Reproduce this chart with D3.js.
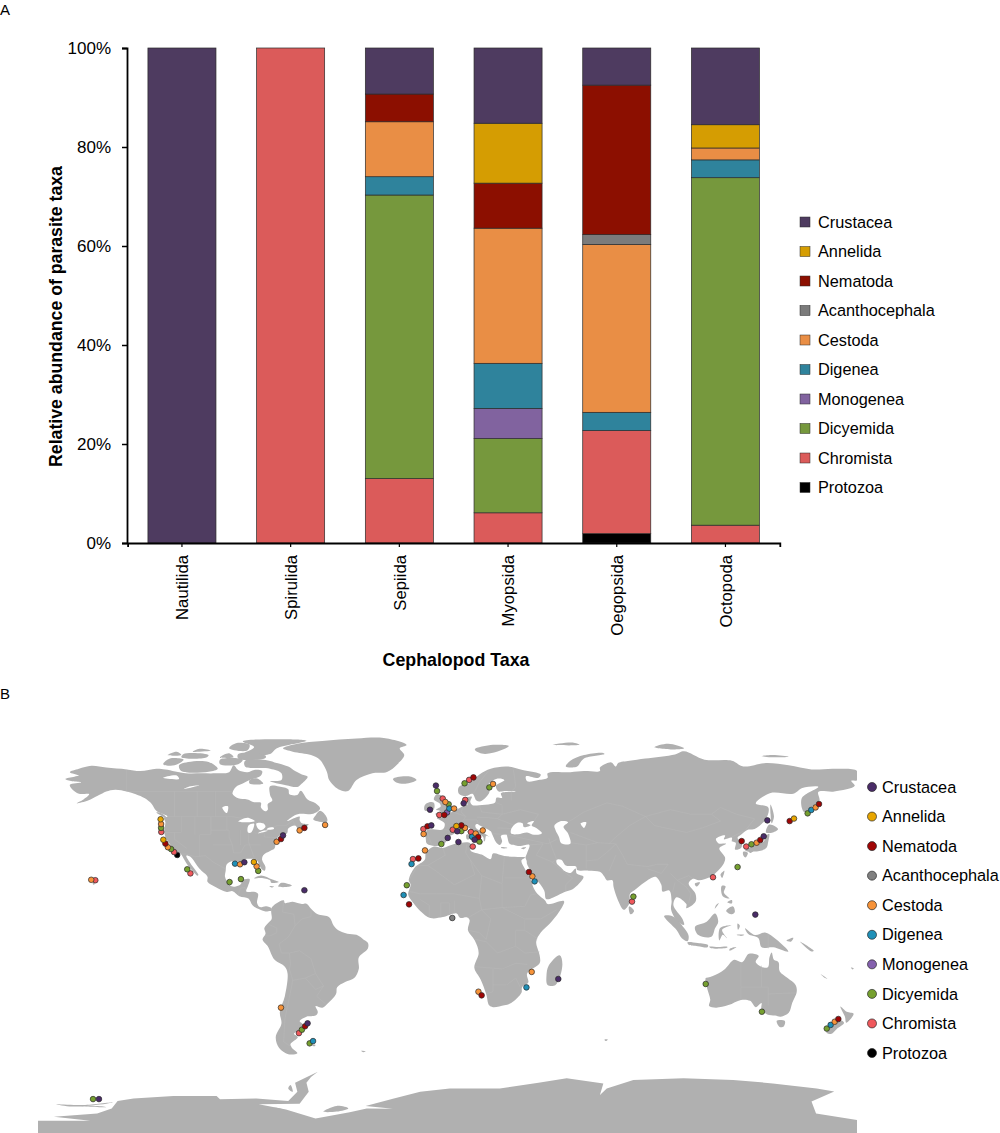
<!DOCTYPE html>
<html>
<head>
<meta charset="utf-8">
<script src="https://cdn.jsdelivr.net/npm/d3@7"></script>
<style>
  body { margin: 0; background: #fff; }
  text { font-family: "Liberation Sans", Arial, sans-serif; fill: #000; }
</style>
</head>
<body>
<div id="canvas"></div>
<script>
// panel A data, one array per parasite taxon, same order as categories
const categories = ["Nautilida", "Spirulida", "Sepiida", "Myopsida", "Oegopsida", "Octopoda"];
const yTicks = [0, 20, 40, 60, 80, 100];
const taxa = ["Protozoa", "Chromista", "Dicyemida", "Monogenea", "Digenea", "Cestoda", "Acanthocephala", "Nematoda", "Annelida", "Crustacea"];
const protozoa = [0, 0, 0, 0, 1.9, 0];
const chromista = [0, 100, 13, 6.1, 20.8, 3.6];
const dicyemida = [0, 0, 57.3, 15, 0, 70.2];
const monogenea = [0, 0, 0, 6.1, 0, 0];
const digenea = [0, 0, 3.7, 9.1, 3.7, 3.6];
const cestoda = [0, 0, 11.1, 27.3, 33.9, 2.4];
const acanthocephala = [0, 0, 0, 0, 2, 0];
const nematoda = [0, 0, 5.6, 9.1, 30.2, 0];
const annelida = [0, 0, 0, 12.1, 0, 4.7];
const crustacea = [100, 0, 9.3, 15.2, 7.5, 15.5];

const barColors = ["#000000", "#db5b5a", "#76983d", "#81639f", "#2f839c", "#e98e45", "#7b7b7b", "#8c0f00", "#d59d02", "#4e3b60"];
const dotColors = ["#000000", "#f0585c", "#76a02f", "#8460ae", "#1f90b8", "#f79339", "#808080", "#a00505", "#e8a600", "#4a2c68"];

// panel B sampling sites as [lon, lat]
const protozoaSites = [[-118.8,32.1]];
const chromistaSites = [[-125.8,42.2],[-120.2,33.4],[-113,24],[-154.8,21],[-65.3,-46.2],[9.5,65.1],[-2.1,56.9],[-3.6,49.7],[7.8,56.3],[-10.6,43.5],[2.3,43.2],[10.3,42.2],[11.1,35.8],[-15.2,30.3],[81.1,11.6],[116.7,22.3],[131.3,35.8]];
const dicyemidaSites = [[-125.9,44],[-121.5,34.7],[-114.4,25.8],[-83.2,25.1],[-90.8,21.5],[-95.8,20.2],[-64,-44.7],[-60.6,-50.7],[-155.8,-75.2],[-4.6,60.2],[7.5,63.6],[18.4,61.8],[0.5,54.4],[6.1,42.6],[-2.7,36.9],[14,38],[-17.9,18.8],[81.7,13.8],[127.5,26.8],[133.6,36.8],[158.3,50.4],[113.5,-24.6],[138.2,-36.8],[166.7,-44.2]];
const monogeneaSites = [[-0.2,50.8]];
const digeneaSites = [[-93.4,28.3],[-59.1,-49.7],[0.8,52.5],[10.8,40.1],[-15.8,28.1],[-19.3,14.5],[38.3,20.5],[159.9,51.9],[34.7,-26.1],[168.4,-42.6]];
const cestodaSites = [[-125.9,45.7],[-122.9,35.5],[-156.6,21.2],[-91.2,28],[-83.9,27.1],[-75.1,37.9],[-65,42.9],[-53.8,45.3],[-73.2,-35],[20,63.3],[-0.95,55.4],[2.9,52.5],[-10.5,41.3],[7.7,44],[12.4,41.5],[15.5,42.9],[-9.9,34.1],[37.3,22.7],[135.9,37.5],[161.8,53],[37,-19.3],[13.6,-28],[170.2,-41.2]];
const acanthocephalaSites = [[2.1,4.4]];
const nematodaSites = [[-124,37.1],[-73.2,39.1],[-62.9,44],[-62.6,-43.2],[11.4,66.2],[-1.4,49.7],[-8.8,44.7],[6.1,45.1],[13.5,40],[-12.8,30.6],[-16.9,10.4],[35.8,24.6],[129.3,38.2],[137.5,38.7],[150.4,47],[163.3,54.5],[15,-29.6],[171.8,-40]];
const annelidaSites = [[-126.1,47.8],[-124.9,38.8],[-85.1,29],[3.9,44.8],[152.3,48.1]];
const crustaceaSites = [[-89.3,28.9],[-62.9,16.6],[-72.3,40.7],[-61.5,-41.9],[-153.2,-75.2],[-5.1,62.6],[-7.7,52],[7.1,54.8],[-7.1,45.1],[4.3,42.5],[0.1,39.6],[4.8,37.8],[11.9,38.8],[135.3,5.9],[139,40.3],[140.6,47.3],[48.7,-22.4]];

// land outlines as lon/lat rings, traced by hand
const northAmerica = [[-168,65.5],[-164,66.5],[-162,67],[-166,68.5],[-162,70],[-156.5,71.3],[-150,70.5],[-141,69.7],[-135,69],[-128,70],[-124,69.7],[-115,68],[-108,68],[-102,68],[-96,68.5],[-94,71.5],[-92,69.5],[-88,68.5],[-85,69.5],[-81.5,69],[-82,67],[-87,65],[-90,63.5],[-93,62],[-94.5,59],[-92,57],[-88,56.5],[-85,55.3],[-82,55],[-82,53],[-80,51.3],[-79,52],[-79,54.5],[-77,56],[-78,58.5],[-78,62.3],[-74,62.2],[-70,61],[-69.5,58.8],[-66,58.5],[-64.5,60.3],[-61.5,56.5],[-58,54.8],[-56,52.5],[-59,50.2],[-65,50.2],[-68,49],[-70.5,47],[-65,49],[-65,47.5],[-64,46],[-61,45.5],[-65.5,43.5],[-67,45],[-70,43.7],[-70.5,41.7],[-74,40.6],[-75.5,38],[-76,35],[-78,33.8],[-81,32],[-81.5,30],[-80,26.8],[-80.4,25.2],[-81.8,26],[-82.8,28],[-84,30],[-86,30.4],[-89,30.2],[-90,29.1],[-94,29.6],[-97,28],[-97.5,25],[-97.8,22.5],[-96,19.2],[-94.5,18.2],[-92,18.6],[-90.7,19.5],[-90.3,21],[-87,21.5],[-87.7,18.5],[-88.5,16],[-85,15.9],[-83.3,15],[-83.7,11],[-82.5,9.2],[-79.7,9.6],[-77.4,8.7],[-77.5,7.5],[-78,7.5],[-80,7.3],[-83,8.3],[-85.7,10],[-87.5,13],[-91.5,14],[-94.5,16.2],[-97,15.8],[-102,18],[-105.5,20.3],[-105.5,22.5],[-109,26],[-113,31.3],[-114.8,31.8],[-113,28.5],[-109.5,23.3],[-110,23],[-112,25],[-114.5,28],[-116,30.5],[-117.2,32.5],[-120.5,34.5],[-122,36.8],[-124,40],[-124.5,43],[-124,46.5],[-124.7,48.4],[-123,49],[-128,51.5],[-130,54.5],[-133,57],[-137,58.8],[-141,60],[-146,60.8],[-150,60],[-152,59],[-154,58],[-158,56],[-163,54.8],[-160,56.5],[-157.5,58.8],[-162,59],[-165,61],[-166,63],[-161,64],[-165,64.5]];
const greenland = [[-72.3,79],[-66,81],[-55,82.2],[-40,83.3],[-28,83.5],[-18,80.5],[-21,79],[-19,76],[-22,72],[-26.6,68.6],[-33,68],[-40,65],[-43.7,60.2],[-48,61],[-52,65],[-53,68.6],[-56,73.8],[-60,76],[-68,77.5]];
const southAmerica = [[-77.4,8.7],[-75.5,10.7],[-72,12.2],[-71.5,11],[-68,11.5],[-64,10.5],[-62,10.7],[-60,8.5],[-57,6],[-52,4.7],[-50,1],[-48,-1],[-44,-2.5],[-40,-3],[-37,-5],[-35,-6.5],[-35,-9],[-39,-13],[-39,-18],[-41,-22],[-45,-23.7],[-48.5,-26],[-49,-29],[-53,-33.5],[-55,-35],[-58,-34.3],[-57,-37],[-58,-38.5],[-62,-39],[-65,-41],[-63.5,-42.5],[-65.5,-45],[-67.5,-46.5],[-65.8,-48],[-69,-51],[-68.5,-52.5],[-66,-55],[-70,-55.5],[-74,-52.8],[-75.5,-48],[-73,-42],[-73.7,-37],[-71.5,-30],[-70.3,-20],[-71.5,-17],[-76,-14],[-79,-8],[-81.3,-5],[-80,-2.5],[-80.5,0],[-78.5,2.5],[-77.3,4],[-77.5,7]];
const africa = [[-6,35.8],[-2,35.2],[3,36.9],[10,37.3],[10.2,34],[15,32.3],[19,30.3],[20,32.7],[25,31.6],[32,31.2],[34.3,31],[32.5,29.7],[34,26],[37,20.5],[37.5,18.5],[39.5,15],[43,12],[44,10.5],[51.2,11.8],[49,7],[45,2],[41,-2],[39,-6],[40.5,-12],[40.5,-15.5],[35,-20],[35.5,-24],[32.8,-26],[32.5,-28.5],[28,-33],[25,-34],[20,-34.8],[18.3,-34],[17,-29],[14.5,-22.5],[11.8,-17.5],[13.7,-11],[12,-5.5],[9,-1],[9.7,3.5],[8.5,4.7],[5.5,4.5],[4,6.4],[-2,4.8],[-7.5,4.4],[-12,7.5],[-15,11],[-17.3,14.7],[-16.2,19],[-17,21],[-14.5,26.5],[-10,30],[-9.5,33]];
const eurasia = [[-5.6,36],[-9,37],[-9.5,38.7],[-9,43],[-2,43.4],[-1.3,46],[-4.7,48.4],[-1.5,48.7],[-1.5,49.7],[2,51],[4,52],[7,53.6],[8.7,54],[8.2,57],[10.7,57.7],[10,55.5],[11,54],[14,54],[19,54.5],[21,55.3],[21.5,57.3],[24,57.2],[23.5,59.2],[30,60],[25,60.2],[22.5,60],[21.3,62.5],[25,65],[22,65.7],[17.5,62.5],[18.5,60],[16.5,57],[14.3,55.6],[12.7,56],[11,59],[8,58],[5,59],[5,62],[10,64],[14,67.5],[19,70],[26,71],[33,69.5],[41,67.5],[40,66],[34.5,66.7],[35,64.5],[40,65],[44,66],[44,68],[54,68.5],[60,69],[67,69],[67,70.5],[72,72.8],[74,71],[75,72.5],[80,73.5],[87,74.5],[100,76.3],[104,77.7],[113,74],[125,73.5],[130,71],[140,72.5],[150,71.5],[160,69.7],[170,70],[180,69],[180,65],[177.5,64.7],[179,62.5],[170,60],[163,59.8],[163.5,56],[160,53],[156.7,51],[155.7,57],[163,62],[156,61.5],[152,59],[142,59.3],[135.5,54.7],[141,53],[140,48],[135,43.5],[132,43.2],[129,41],[127.5,39.7],[129.4,37],[129,35.2],[126.4,34.5],[126.7,37.5],[125,38],[125,39.7],[121.5,39],[122,40.7],[118,39.2],[119,37.3],[122.5,37],[119.5,35],[122,31],[121.5,28.5],[119,25.3],[116,22.8],[110.5,21],[108,21.6],[106,19.5],[109,15],[109,11.5],[105,8.7],[105,10.5],[100.7,13.5],[99.3,10],[103.3,4],[104,1.4],[101,3],[98.3,8],[98.5,12],[97.5,16.5],[94.5,16],[94,19],[91.5,22.5],[89,21.7],[86.5,20],[82,16.5],[80.2,15],[80,11],[77.5,8],[75,12],[73,18],[72.5,21],[70,21],[69,22.5],[67,24.7],[62,25.2],[57,25.5],[56.5,27],[52,27.5],[50,30],[48,30],[48,28.5],[50,26.5],[51.5,25],[54,24.2],[56.3,26.2],[56.8,24],[59.8,22.5],[55,17],[52,16],[45,12.8],[43.3,12.8],[42.5,16.5],[39,21.5],[35,28],[34.8,29.5],[34.3,31],[35,33],[36,36.5],[32,36],[30,36.3],[27.3,37],[26.3,40],[26,41],[23.5,40.5],[24,38],[23,36.5],[21.5,37.5],[19.5,41.5],[19,42.5],[14,45.2],[13,45.7],[12.3,45.3],[12.5,44],[16,41.8],[18.5,40],[17,40.5],[16.5,38.5],[16,38],[15.7,40],[12.5,41.5],[10.5,43],[8.8,44.4],[6,43],[3.2,43],[3.2,41.8],[0,39.8],[-0.5,38],[-2,36.8]];
const australia = [[113.5,-22],[114,-26],[115.5,-31.5],[115,-34.3],[118,-35],[123.5,-33.9],[129,-31.6],[133,-32],[135.5,-34.8],[138,-33],[138,-35.6],[140.5,-38],[144,-38.5],[146.5,-39],[150,-37.3],[151.5,-33],[153.5,-28],[153,-25],[149.5,-22],[146,-19],[145.5,-15],[143.5,-14],[142.5,-10.8],[141.5,-13],[141,-17],[139.5,-17.5],[135.5,-15],[136.8,-12.2],[132.5,-11.3],[129.5,-15],[126,-14],[122,-18],[119,-20],[114.5,-21.8]];
const antarctica = [[-180,-84.7],[-157,-84.7],[-173,-83],[-154,-81.5],[-147.6,-79.3],[-145,-76],[-138,-74.9],[-120.5,-73.8],[-101.5,-73.8],[-100,-75.3],[-84,-74.9],[-70,-76],[-66,-72],[-67,-68],[-57,-63.2],[-60,-65.5],[-62,-68],[-61,-72],[-65,-77.2],[-83,-77.5],[-71,-79.8],[-58,-83.7],[-43,-81],[-35.5,-79.3],[-24,-79.5],[-36,-78.2],[-24,-75],[-12,-72],[1,-70.5],[23,-70.5],[40,-68],[52.4,-66],[68.5,-68.3],[67,-73.4],[70,-70.5],[81.7,-66.8],[103.7,-66],[125.6,-66.8],[143,-68.3],[162.3,-70.5],[170,-71.9],[160,-76.3],[162,-81.5],[180,-84.4],[180,-91],[-180,-91]];
const islands = [
  [[-61.5,66.5],[-64,63.5],[-66,62],[-71,62.8],[-78,64.5],[-73,65],[-73,68],[-78,70],[-89,71],[-89,73.5],[-80,73.8],[-76,72.8],[-70,71],[-67,69],[-64,67.5]],
  [[-117,69],[-105,68.7],[-101,70],[-105,73],[-114,73],[-118,71.5]],
  [[-125,72],[-120,71.5],[-116,74],[-122,74.5]],
  [[-90,76.5],[-78,76.5],[-75,79],[-62,82.3],[-72,83],[-90,82],[-85,79.5]],
  [[-92,74.5],[-80,74.7],[-80,75.8],[-92,76.5]],
  [[-96,79],[-88,78],[-87,80.5],[-93,81.2]],
  [[-117,75],[-106,74.9],[-105,76],[-116,76.5]],
  [[-100,72],[-92,72],[-90,74],[-100,74]],
  [[-100,75],[-94,75],[-96,76.8]],
  [[-123,76],[-117,76],[-119,77.5]],
  [[-112,77.5],[-104,78],[-109,78.8]],
  [[-87,63.5],[-81,63.5],[-84,65.8],[-87,65]],
  [[-59,47.7],[-53,46.7],[-53,48.5],[-56,51.5],[-58,49.5]],
  [[-85,21.8],[-82,23.1],[-77,21.3],[-74.2,20.2],[-77.5,19.9],[-78,21],[-82,22]],
  [[-74.4,18.5],[-73,19.9],[-68.4,18.7],[-71,18],[-74.4,18.2]],
  [[-78.3,18.4],[-76.3,18.2],[-77,17.8]],
  [[-128,50.8],[-124,48.5],[-123.5,48.5],[-125.5,50.3]],
  [[-24,65.5],[-22,66.4],[-16,66.5],[-13.6,65],[-18.5,63.4],[-22.5,64]],
  [[-5.5,50],[1.3,51.2],[1.7,52.7],[0,53.5],[-1.5,55],[-2,57.6],[-3.5,58.6],[-5,58.6],[-6,56.5],[-3.5,54.8],[-3,53.4],[-5,52],[-3,51.4]],
  [[-10,51.7],[-6,52.2],[-6,55],[-8,55.3],[-10,54]],
  [[12,78.5],[20,80.5],[27,80],[20,77],[15,76.7]],
  [[52,71],[55,70.6],[57,71],[60,74.5],[69,76.5],[68,77],[60,76],[54,73.5]],
  [[46,80.5],[58,80.5],[55,81.5]],
  [[91,79.5],[100,78.5],[104,79],[97,81]],
  [[138,75.5],[145,75],[150,75.3],[143,76]],
  [[12.5,38],[15.5,38.2],[15,36.7]],
  [[8.3,41],[9.7,41],[9.5,39],[8.5,39]],
  [[8.6,42.5],[9.5,43],[9.3,41.5]],
  [[23.5,35.5],[26.3,35.2],[24,35]],
  [[32.3,35],[34.5,35.6],[33.5,34.6]],
  [[49.3,-12],[50.5,-16],[47.5,-25],[44,-25],[43.5,-21],[44.5,-16.5]],
  [[79.8,9.5],[82,7.5],[80.5,6],[79.8,7.5]],
  [[142,54.3],[143.5,49],[142.5,46],[142,50]],
  [[130.9,34],[135,33.6],[140,35],[141,38],[141.4,41.4],[140,40.5],[139,38],[136.5,37],[133,35.5]],
  [[140,42],[141.5,45.5],[145.3,43.5],[143,42]],
  [[130,33.5],[132,33],[131,31],[130,32]],
  [[132.5,34],[134.5,34],[133,33]],
  [[121.7,25.2],[120.7,22],[120,23.5]],
  [[108.7,19.5],[111,20],[109.5,18.2]],
  [[120.5,18.5],[122.2,18.4],[121.5,15.5],[124,13],[121,14]],
  [[122.5,7.5],[125.5,9.5],[126.3,7],[125,6]],
  [[123,11.3],[125,12.3],[125,10.8]],
  [[118,10],[119.3,11],[117.5,8.5]],
  [[108.8,0.6],[113.9,2.8],[117.6,6.4],[119,2.8],[117.6,-0.1],[116,-3.8],[110.3,-3.1]],
  [[95.2,5.3],[99.3,5],[104,0],[106,-3.5],[105.5,-5.8],[103,-4.5],[100.7,-0.9]],
  [[105.5,-6.3],[110,-6.6],[114.5,-7.5],[114.3,-8.5],[110,-8],[106,-7.4]],
  [[119.5,-5.5],[119.8,0],[124.8,1.2],[120.7,-0.8],[122.8,-4.5],[121,-3]],
  [[115,-8.2],[119,-8.3],[123,-8.2],[123,-8.6],[116,-8.9]],
  [[124,-10],[127,-8.4],[124,-9.2]],
  [[127.5,2],[128.5,1],[127.7,-0.8]],
  [[127,-3],[130.5,-3],[129,-3.5]],
  [[130.8,-0.1],[135.2,-3.1],[139.6,-2],[144.7,-5.2],[149.8,-10.4],[143.2,-8.5],[138.1,-8.5],[136.6,-4.4],[132.2,-2.6]],
  [[149,-5.5],[152,-4.3],[151,-6]],
  [[155,-6],[161,-10],[160,-10.3]],
  [[164,-20.2],[167,-22.3],[166,-22]],
  [[177.3,-17.4],[178.6,-17.8],[178,-18.2]],
  [[144.7,-40.8],[148.3,-40.9],[147.8,-43.3],[146,-43.5]],
  [[166.5,-45.8],[172.5,-40.6],[174.3,-41.7],[171,-44.5],[168.5,-46.6]],
  [[172.7,-34.5],[175.5,-36.8],[178.5,-37.7],[175.3,-41.6],[174.7,-39]],
  [[-54.6,-80.7],[-48.7,-78.2],[-43.6,-79.3],[-48.7,-80.7]],
  [[-80,-79.5],[-75,-79],[-72,-80]],
  [[-172,-77.5],[-160,-77.8],[-147,-76.6],[-150,-77.2],[-165,-78.5]],
  [[-70,-70.5],[-69,-69],[-68,-72]],
  [[-162,-78.2],[-152,-78.4],[-150,-78.8]],
  [[-59.8,-51.3],[-58,-51.4],[-58.5,-52]],
  [[-38,-54],[-36,-54.2],[-37,-54.6]],
  [[-156,19.7],[-155,19.7],[-155.5,19]],
  [[69,-49],[70.5,-49],[69.5,-49.7]]
];
const waters = [
  [[-92,46.8],[-88,48.5],[-84.7,47],[-87,46.5]],
  [[-87.7,42],[-86.3,42],[-85,45.8],[-87.5,45]],
  [[-84,46],[-81,46],[-80,44.5],[-82,43],[-83.5,44]],
  [[-83.3,41.7],[-79,42.8],[-81,42.8]],
  [[-79.5,43.3],[-76.3,43.5],[-76.5,44.2],[-79,43.9]],
  [[-125,66],[-119,67],[-118,65.5]],
  [[-116,61],[-109,62.7],[-114,62]],
  [[-99,53],[-96.5,53.5],[-97,50.5]],
  [[28,41.5],[31,41.2],[35,42],[38,41],[41.5,41.7],[39,44],[37,45],[38,47],[35,46],[36.5,45.2],[33.5,44.4],[33,46],[30.5,46.2],[28,43.5]],
  [[47,45],[50,47],[53,46.5],[51,44.5],[53,41.5],[54,37],[50,37.3],[49,40],[47.5,43]],
  [[58.5,46],[61,46.5],[60,44]]
];
// country borders, only the ones that show on the reference
const borders = [
  [[-141,69.7],[-141,60]],
  [[-123,49],[-95,49],[-89,48],[-84,46.5],[-82.5,42],[-79,43],[-75,45],[-71,45],[-68,47.3],[-67,45]],
  [[-117.2,32.5],[-114.8,32.5],[-111,31.3],[-106.5,31.8],[-103,29],[-97.5,25.9]],
  [[-104,49],[-104,41],[-109,41],[-109,31.3]],
  [[-117,49],[-117,42],[-124.3,42]],
  [[-120,42],[-120,39],[-114.6,35]],
  [[-111,49],[-111,41]],
  [[-104,43],[-96,43],[-96,40],[-94.6,36.5],[-103,36.5]],
  [[-97,49],[-97,43]],
  [[-94.6,36.5],[-94,33],[-91,33],[-89,36.5],[-82,36.5]],
  [[-91,43],[-91,36.5]],
  [[-87.5,42],[-87.5,38],[-85,31]],
  [[-84.8,41.7],[-80.5,41.7],[-80.5,40],[-75,39.7]],
  [[-120,60],[-120,49]],
  [[-110,60],[-110,49]],
  [[-141,60],[-102,60],[-94.5,60]],
  [[-102,60],[-102,49]],
  [[-92,14.5],[-91,17.5],[-89,17.8],[-88.5,16]],
  [[-72,12],[-72.5,7],[-67.5,6],[-67,1],[-70,-4],[-74,-7],[-73,-11],[-69.5,-11],[-65,-10],[-60,-13.5],[-58,-20],[-54.5,-25.5],[-57.5,-30],[-53.5,-33.5]],
  [[-60,8.5],[-60,5],[-64,4],[-67,1]],
  [[-78.5,1.5],[-75,0],[-75,-2],[-78,-3.5],[-80.3,-3.5]],
  [[-69.5,-11],[-69,-16],[-69.5,-18],[-68,-23],[-70,-33],[-71.5,-40],[-72,-50],[-69,-52]],
  [[-68,-23],[-62.5,-22],[-58,-20]],
  [[-62.5,-22],[-58,-27],[-54.5,-25.5]],
  [[-2,35.2],[-1,32],[-8.7,27.5],[-13,27.5],[-17,21]],
  [[-8.7,27.5],[-5,25],[3,19],[12,23.5],[10,30],[8,33],[8.5,37]],
  [[10,30],[15,23],[24,19.5],[25,31.6]],
  [[25,22],[37,22]],
  [[24,19.5],[24,9],[34,9.5],[36.5,14.5],[39,15]],
  [[-16.5,16],[-12,15],[-5,15],[3,15],[14,13],[15,23]],
  [[14,13],[15,8],[9,4.5]],
  [[3,12],[3,6.4]],
  [[-8,4.5],[-8,10],[-12,12.5]],
  [[-3,5],[-3,11],[1,11],[1,6]],
  [[15,8],[24,9],[34,4],[41,4],[48,8]],
  [[34,4],[34,-1],[39.5,-4.7]],
  [[34,-1],[30,-1],[30,-8],[34,-11],[40.5,-10.5]],
  [[12,-5],[17,-6],[22,-11],[30,-8]],
  [[12,-17],[24,-18],[30,-15.5],[35,-16]],
  [[20,-18],[20,-28],[17,-29]],
  [[20,-25],[26,-25],[30,-22],[32,-26]],
  [[9,-1],[14,-2],[17,-5],[19,4],[15,8]],
  [[-9,42],[-7,37]],
  [[-2,43.4],[3,42.5]],
  [[2.5,51],[8,49],[7,47.5],[6,46],[7.5,44]],
  [[7,53.6],[6,51],[8,49]],
  [[7,47.5],[13,47.5],[13.5,46]],
  [[14,54],[15,51],[24,50],[22,48],[18,48.5],[13,48.7]],
  [[24,50],[24,54],[21,55.3]],
  [[28,56],[28,60]],
  [[24,50],[32,52],[40,50],[38,47]],
  [[22,48],[29,45.3]],
  [[22,44],[28,43.7]],
  [[19.5,41.5],[26,41]],
  [[29,69.5],[30,62],[28,60]],
  [[18,69],[14,64],[12,60],[11,59]],
  [[26,41],[44,37],[48,39]],
  [[36,36.5],[42,37],[39,32],[46,29],[48,30]],
  [[46,29],[52,24],[55,22],[52,19],[52,16]],
  [[44.5,39.5],[46,35],[48,30]],
  [[61,36.5],[61,26]],
  [[61,36.5],[54,37.5]],
  [[61,36.5],[66,37.5],[74,37],[71,34],[66,30],[61,29.5]],
  [[74,37],[77,32],[79,28],[88,27],[92,28],[97,28],[94,24],[91,25],[88,26]],
  [[71,25],[74,32]],
  [[53,46.5],[60,51],[70,55],[77,53.5],[87,49]],
  [[87,49],[98,52],[107,50],[116,50],[120,53],[127,50],[135,48],[131,43]],
  [[87,49],[80,45],[74,40],[71,37]],
  [[87,49],[91,45],[105,42],[112,44],[120,47],[116,50]],
  [[54,42],[66,37.5]],
  [[98,24],[101,21],[106,23],[108,21.6]],
  [[101,21],[105,18],[107,15],[106,11]],
  [[99,16],[100,20]],
  [[125,40],[130,42.5]],
  [[141,-2.6],[141,-9]],
  [[129,-15],[129,-31.6]],
  [[138,-16.5],[138,-26],[141,-26],[141,-34]],
  [[129,-26],[138,-26]],
  [[141,-29],[153.5,-28.5]]
];

const svg = d3.select("#canvas").append("svg")
    .attr("width", 1000)
    .attr("height", 1133);

const seriesByTaxon = [protozoa, chromista, dicyemida, monogenea, digenea, cestoda, acanthocephala, nematoda, annelida, crustacea];
const sitesByTaxon = [protozoaSites, chromistaSites, dicyemidaSites, monogeneaSites, digeneaSites, cestodaSites, acanthocephalaSites, nematodaSites, annelidaSites, crustaceaSites];
const color = d3.scaleOrdinal().domain(taxa).range(barColors);
const dotColor = d3.scaleOrdinal().domain(taxa).range(dotColors);

svg.append("text").attr("x", 0).attr("y", 15).style("font-size", "15px").text("A");
svg.append("text").attr("x", 0).attr("y", 699).style("font-size", "15px").text("B");

// panel A
const x = d3.scaleBand()
    .domain(categories)
    .range([127.6, 779.8])
    .paddingInner(0.374)
    .paddingOuter(0.187);

const y = d3.scaleLinear()
    .domain([0, 100])
    .range([543, 48]);

const table = categories.map((name, i) => {
  const row = { name: name };
  taxa.forEach((t, k) => { row[t] = seriesByTaxon[k][i]; });
  return row;
});
const stacked = d3.stack().keys(taxa)(table);

svg.append("g").selectAll("g")
  .data(stacked)
  .enter().append("g")
    .attr("fill", d => color(d.key))
  .selectAll("rect")
  .data(d => d.filter(s => s[1] > s[0]))
  .enter().append("rect")
    .attr("x", d => x(d.data.name))
    .attr("y", d => y(d[1]))
    .attr("width", x.bandwidth())
    .attr("height", d => y(d[0]) - y(d[1]))
    .attr("stroke", "#2b2b2b")
    .attr("stroke-width", 0.7);

const yAxis = svg.append("g")
    .attr("transform", "translate(127,0)")
    .call(d3.axisLeft(y).tickValues(yTicks).tickFormat(d => d + "%").tickSize(5).tickPadding(11));
yAxis.selectAll("text").style("font-size", "17px").attr("font-family", null);
yAxis.selectAll("line").attr("stroke-width", 1.5);
yAxis.select(".domain").attr("stroke-width", 1.8);

const xAxis = svg.append("g")
    .attr("transform", "translate(0,543)")
    .call(d3.axisBottom(x).tickSize(4).tickPadding(0));
xAxis.selectAll("text")
    .style("font-size", "16.7px")
    .attr("font-family", null)
    .attr("transform", "rotate(-90)")
    .attr("text-anchor", "end")
    .attr("dy", "0.35em")
    .attr("x", -12)
    .attr("y", 0.5);
xAxis.selectAll("line").attr("stroke-width", 1.2);
xAxis.select(".domain").attr("stroke-width", 1.8);

svg.append("text")
    .attr("transform", "translate(62,316.5) rotate(-90)")
    .attr("text-anchor", "middle")
    .style("font-size", "17.7px")
    .style("font-weight", "bold")
    .text("Relative abundance of parasite taxa");

svg.append("text")
    .attr("x", 456)
    .attr("y", 666)
    .attr("text-anchor", "middle")
    .style("font-size", "17.8px")
    .style("font-weight", "bold")
    .text("Cephalopod Taxa");

const legendOrder = taxa.slice().reverse();
const legendA = d3.scalePoint().domain(legendOrder).range([222, 487.5]);
const legendB = d3.scalePoint().domain(legendOrder).range([787, 1053]);

const legA = svg.append("g").selectAll("g")
  .data(legendOrder)
  .enter().append("g")
    .attr("transform", d => `translate(800,${legendA(d)})`);
legA.append("rect")
    .attr("x", 0).attr("y", -5)
    .attr("width", 10).attr("height", 10)
    .attr("fill", d => color(d))
    .attr("stroke", "#2b2b2b")
    .attr("stroke-width", 0.5);
legA.append("text")
    .attr("x", 18).attr("dy", "0.35em")
    .style("font-size", "16.3px")
    .text(d => d);

// panel B: plate carree map, west edge at 38px, east edge at 857px
const projection = d3.geoEquirectangular()
    .scale(130.35)
    .translate([447.5, 928]);
const smooth = d3.line().curve(d3.curveCatmullRomClosed.alpha(0.5));
const ring = pts => smooth(pts.map(p => projection(p)));
const straightRing = pts => d3.line()(pts.map(p => projection(p))) + "Z";

svg.append("clipPath").attr("id", "mapclip")
  .append("rect").attr("x", 38).attr("y", 730).attr("width", 819).attr("height", 403);

const map = svg.append("g").attr("clip-path", "url(#mapclip)");
const land = [northAmerica, greenland, southAmerica, africa, eurasia, australia].concat(islands);

map.append("g").selectAll("path")
  .data(land)
  .enter().append("path")
    .attr("d", ring)
    .attr("fill", "#b0b0b0");

// antarctica stays straight so its lower edge fills the bottom of the map
map.append("path")
    .attr("d", straightRing(antarctica))
    .attr("fill", "#b0b0b0");

map.append("g").selectAll("path")
  .data(borders)
  .enter().append("path")
    .attr("d", b => d3.line()(b.map(p => projection(p))))
    .attr("fill", "none")
    .attr("stroke", "#bbbbbb")
    .attr("stroke-width", 0.4);

map.append("g").selectAll("path")
  .data(waters)
  .enter().append("path")
    .attr("d", ring)
    .attr("fill", "#fff");

const siteRows = [];
taxa.forEach((t, k) => sitesByTaxon[k].forEach(s => siteRows.push({ taxon: t, lon: s[0], lat: s[1] })));

svg.append("g").selectAll("circle")
  .data(siteRows)
  .enter().append("circle")
    .attr("cx", d => projection([d.lon, d.lat])[0])
    .attr("cy", d => projection([d.lon, d.lat])[1])
    .attr("r", 2.8)
    .attr("fill", d => dotColor(d.taxon))
    .attr("stroke", "#2a2a2a")
    .attr("stroke-width", 0.7);

const legB = svg.append("g").selectAll("g")
  .data(legendOrder)
  .enter().append("g")
    .attr("transform", d => `translate(872,${legendB(d)})`);
legB.append("circle")
    .attr("r", 4.5)
    .attr("fill", d => dotColor(d))
    .attr("stroke", "#2a2a2a")
    .attr("stroke-width", 0.7);
legB.append("text")
    .attr("x", 10).attr("dy", "0.35em")
    .style("font-size", "16.3px")
    .text(d => d);
</script>
</body>
</html>
